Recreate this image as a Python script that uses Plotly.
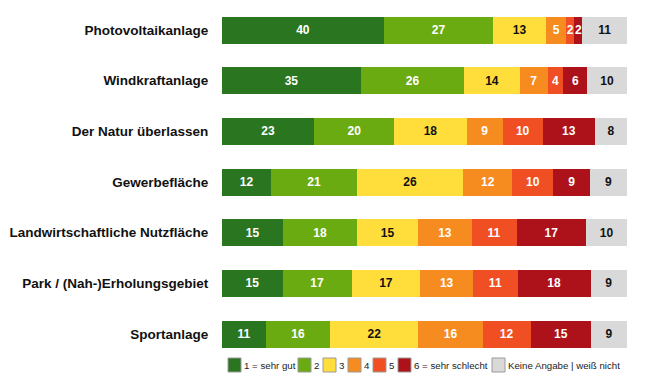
import plotly.graph_objects as go

categories = ["Photovoltaikanlage", "Windkraftanlage", "Der Natur überlassen", "Gewerbefläche",
              "Landwirtschaftliche Nutzfläche", "Park / (Nah-)Erholungsgebiet", "Sportanlage"]
series_names = ["1 = sehr gut", "2", "3", "4", "5", "6 = sehr schlecht", "Keine Angabe | weiß nicht"]
s1 = [40, 35, 23, 12, 15, 15, 11]
s2 = [27, 26, 20, 21, 18, 17, 16]
s3 = [13, 14, 18, 26, 15, 17, 22]
s4 = [5, 7, 9, 12, 13, 13, 16]
s5 = [2, 4, 10, 10, 11, 11, 12]
s6 = [2, 6, 13, 9, 17, 18, 15]
s7 = [11, 10, 8, 9, 10, 9, 9]
series = [s1, s2, s3, s4, s5, s6, s7]
colors = ["#2A7520", "#6AAB12", "#FFDE3B", "#F68B1F", "#F04E23", "#AD1119", "#D9D9D9"]
text_colors = ["white", "white", "#111111", "white", "white", "white", "#111111"]

# page has an 8px body margin; work in screen pixels and convert
OFF = 8
W, H = 650 - OFF, 386 - OFF
ML, MR, MT, MB = 222 - OFF, 23, 0, 27
PW, PH = W - ML - MR, H - MT - MB
ROW0_SCREEN, ROW_STEP = 30, 50.67
top_val = 0 - (ROW0_SCREEN - OFF - MT) / ROW_STEP
bot_val = top_val + PH / ROW_STEP


def px2x(px):
    return (px - OFF - ML) / PW


def px2y(py):
    return (H - MB - (py - OFF)) / PH


fig = go.Figure()
for name, vals, col, tc in zip(series_names, series, colors, text_colors):
    fig.add_trace(go.Bar(
        y=categories, x=vals, name=name, orientation="h",
        marker=dict(color=col, line=dict(width=0)),
        text=[f"<b>{v}</b>" for v in vals], textposition="inside",
        insidetextanchor="middle", textangle=0, constraintext="none",
        textfont=dict(color=tc, size=12, family="Liberation Sans, Arial"),
        showlegend=False,
    ))

# custom compact legend (swatch left edges in screen pixels)
swatch_px = [228, 298, 323, 348, 373, 398, 492]
shapes = []
annotations = []
for name, col, sx in zip(series_names, colors, swatch_px):
    shapes.append(dict(type="rect", xref="paper", yref="paper",
                       x0=px2x(sx), x1=px2x(sx + 13), y0=px2y(372), y1=px2y(358),
                       fillcolor=col, line=dict(color="#9A9A9A", width=1)))
    annotations.append(dict(xref="paper", yref="paper", x=px2x(sx + 14), y=px2y(365.5),
                            xanchor="left", yanchor="middle", text=name, showarrow=False,
                            font=dict(size=9.7, color="#222222")))

fig.update_layout(
    barmode="stack", barnorm="percent", bargap=0.467,
    width=W, height=H,
    margin=dict(l=ML, r=MR, t=MT, b=MB),
    plot_bgcolor="white", paper_bgcolor="white",
    font=dict(family="Liberation Sans, Arial", color="#111111"),
    xaxis=dict(visible=False, range=[0, 100]),
    yaxis=dict(range=[bot_val, top_val], tickmode="array", tickvals=categories,
               ticktext=[f"<b>{c}</b>" for c in categories], automargin=False,
               tickfont=dict(size=13.5, color="#111111"), ticks="outside", ticklen=10,
               tickcolor="white", showline=False, showgrid=False),
    shapes=shapes, annotations=annotations,
    showlegend=False,
)

fig.write_html("out.html")
